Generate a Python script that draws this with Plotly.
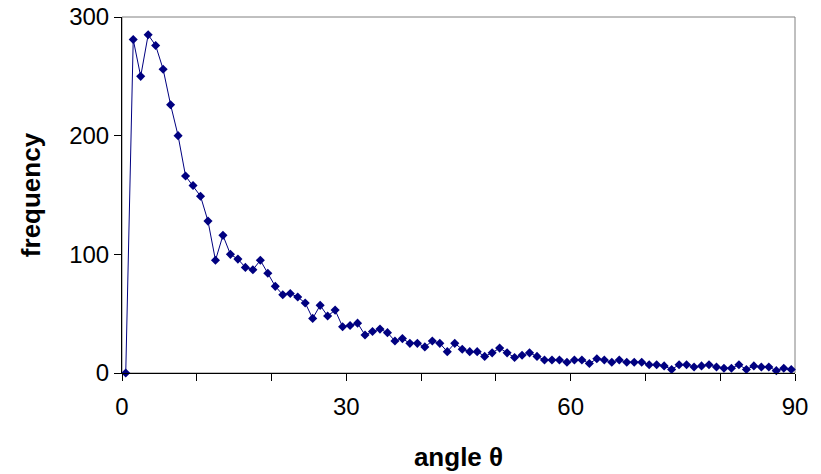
import plotly.graph_objects as go

angles = [0.5, 1.5, 2.5, 3.5, 4.5, 5.5, 6.5, 7.5, 8.5, 9.5,
          10.5, 11.5, 12.5, 13.5, 14.5, 15.5, 16.5, 17.5, 18.5, 19.5,
          20.5, 21.5, 22.5, 23.5, 24.5, 25.5, 26.5, 27.5, 28.5, 29.5,
          30.5, 31.5, 32.5, 33.5, 34.5, 35.5, 36.5, 37.5, 38.5, 39.5,
          40.5, 41.5, 42.5, 43.5, 44.5, 45.5, 46.5, 47.5, 48.5, 49.5,
          50.5, 51.5, 52.5, 53.5, 54.5, 55.5, 56.5, 57.5, 58.5, 59.5,
          60.5, 61.5, 62.5, 63.5, 64.5, 65.5, 66.5, 67.5, 68.5, 69.5,
          70.5, 71.5, 72.5, 73.5, 74.5, 75.5, 76.5, 77.5, 78.5, 79.5,
          80.5, 81.5, 82.5, 83.5, 84.5, 85.5, 86.5, 87.5, 88.5, 89.5]

frequency = [0, 281, 250, 285, 276, 256, 226, 200, 166, 158,
             149, 128, 95, 116, 100, 96, 89, 87, 95, 84,
             73, 66, 67, 64, 59, 46, 57, 48, 53, 39,
             40, 42, 32, 35, 37, 34, 27, 29, 25, 25,
             22, 27, 25, 18, 25, 20, 18, 18, 14, 17,
             21, 17, 13, 15, 17, 14, 11, 11, 11, 9,
             11, 11, 8, 12, 11, 9, 11, 9, 9, 9,
             7, 7, 6, 3, 7, 7, 5, 6, 7, 5,
             4, 4, 7, 3, 6, 5, 5, 2, 4, 3]

x_tickvals = [0, 10, 20, 30, 40, 50, 60, 70, 80, 90]
x_ticktext = ["0", "", "", "30", "", "", "60", "", "", "90"]
y_tickvals = [0, 100, 200, 300]

fig = go.Figure()
fig.add_trace(go.Scatter(
    x=angles, y=frequency, mode="lines+markers",
    line=dict(color="#000080", width=1),
    marker=dict(symbol="diamond", size=7, color="#000080"),
    cliponaxis=False, showlegend=False,
))

fig.add_shape(type="rect", xref="paper", yref="paper", x0=0, y0=0, x1=1, y1=1,
              line=dict(color="#808080", width=1), layer="below")

font = "Liberation Sans, Arial, sans-serif"
fig.update_layout(
    width=821, height=474,
    margin=dict(l=122, r=26, t=17, b=101),
    paper_bgcolor="white", plot_bgcolor="white",
    font=dict(family=font, size=24, color="black"),
    xaxis=dict(
        range=[0, 90], tickvals=x_tickvals, ticktext=x_ticktext,
        ticks="outside", ticklen=7, tickcolor="black",
        showline=True, linecolor="black", linewidth=1,
        showgrid=False, zeroline=False, automargin=False,
        ticklabelstandoff=5, ticklabeloverflow="allow",
        title=dict(text="<b>angle θ</b>", font=dict(size=26), standoff=29),
    ),
    yaxis=dict(
        range=[0, 300], tickvals=y_tickvals,
        ticks="outside", ticklen=7, tickcolor="black",
        showline=True, linecolor="black", linewidth=1,
        showgrid=False, zeroline=False, automargin=False,
        ticklabeloverflow="allow",
        title=dict(text="<b>frequency</b>", font=dict(size=26), standoff=21),
    ),
)

fig.write_html("out.html", config={"displayModeBar": False},
               post_script="document.body.style.margin='0px';")
